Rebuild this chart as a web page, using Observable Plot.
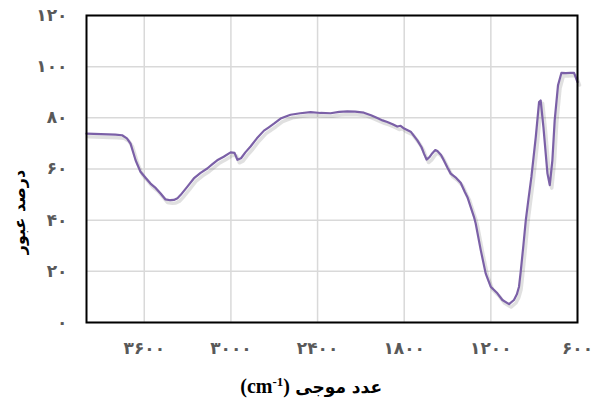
<!DOCTYPE html>
<html><head><meta charset="utf-8">
<script src="https://cdn.jsdelivr.net/npm/d3@7"></script>
<script src="https://cdn.jsdelivr.net/npm/@observablehq/plot@0.6"></script>
<style>
body{margin:0;background:#fff;}
#chart svg{display:block;}
</style>
</head><body><div id="chart"></div>
<script>
const wavenumber = [4000,3900,3800,3753,3720,3695,3660,3626,3590,3557,3520,3487,3453,3420,3395,3370,3349,3300,3257,3210,3164,3130,3095,3050,3002,2975,2955,2930,2900,2864,2820,2771,2740,2702,2656,2620,2587,2520,2448,2380,2310,2250,2194,2140,2079,2030,1986,1950,1917,1880,1848,1825,1800,1755,1709,1680,1663,1645,1625,1605,1585,1570,1545,1524,1500,1478,1440,1409,1380,1362,1340,1317,1305,1270,1236,1201,1155,1120,1074,1040,1020,1005,993,975,958,940,919,889,866,855,836,808,792,774,758,735,711,680,650,624,600];
const transmittance = [73.8,73.6,73.4,73.2,72.0,69.9,63.4,58.9,56.5,54.3,52.5,50.4,48.1,47.8,47.9,48.6,49.8,53.2,56.3,58.5,60.2,61.8,63.4,64.8,66.5,66.3,63.6,64.2,66.5,68.8,72.0,75.0,76.2,77.7,79.7,80.5,81.2,81.8,82.2,81.9,81.8,82.3,82.5,82.4,82.0,81.0,79.9,79.0,78.4,77.5,76.6,76.9,75.8,74.6,71.2,68.5,66.0,63.7,64.6,66.2,67.4,67.0,65.5,63.2,60.5,58.2,56.5,54.6,51.0,49.0,45.2,41.3,38.7,28.3,19.2,14.0,11.4,8.8,7.2,8.8,11.0,14.0,20.0,30.0,40.0,48.0,57.0,72.5,86.2,86.8,76.4,58.2,53.7,63.4,79.0,92.7,97.6,97.5,97.6,97.6,94.0];
const xTicks = [3600,3000,2400,1800,1200,600];
const xTickLabels = ["۳۶۰۰","۳۰۰۰","۲۴۰۰","۱۸۰۰","۱۲۰۰","۶۰۰"];
const yTicks = [0,20,40,60,80,100,120];
const yTickLabels = ["۰","۲۰","۴۰","۶۰","۸۰","۱۰۰","۱۲۰"];
const xTitle = "عدد موجی";
const xUnitOpen = "(cm";
const xUnitExp = "-1";
const xUnitClose = ")";
const yTitle = "درصد عبور";

const data = wavenumber.map((w, i) => ({w, t: transmittance[i]}));

const chart = Plot.plot({
  width: 592, height: 405,
  marginLeft: 86, marginRight: 15, marginTop: 15, marginBottom: 83,
  style: {fontFamily: "'DejaVu Sans', sans-serif", background: "white", overflow: "visible"},
  x: {domain: [4000, 600], axis: null},
  y: {domain: [0, 120], axis: null},
  marks: [
    Plot.ruleX(xTicks, {x: d => d, stroke: "#d9d9d9", strokeWidth: 1.5}),
    Plot.ruleY(yTicks, {y: d => d, stroke: "#d9d9d9", strokeWidth: 1.5}),
    Plot.line(data, {x: "w", y: "t", stroke: "#555", strokeOpacity: 0.18, strokeWidth: 3.5, dx: 2, dy: 3}),
    Plot.line(data, {x: "w", y: "t", stroke: "#7b60a7", strokeWidth: 2.2}),
    Plot.frame({stroke: "black", strokeWidth: 2}),
    Plot.text(xTicks, {x: d => d, text: (d, i) => xTickLabels[i], frameAnchor: "bottom", dy: 31,
      fill: "#595959", fontSize: 17, fontWeight: "bold", letterSpacing: 2}),
    Plot.text(yTicks, {y: d => d, text: (d, i) => yTickLabels[i], frameAnchor: "left", dx: -19, textAnchor: "end",
      fill: "#595959", fontSize: 17, fontWeight: "bold", letterSpacing: 2}),
    Plot.text([yTitle], {frameAnchor: "left", dx: -67, dy: 43, rotate: -90, textAnchor: "middle", fill: "black",
      fontSize: 16, fontWeight: "bold"})
  ]
});

document.getElementById("chart").append(chart);
const svg = d3.select(chart);

// x-axis title: Persian words on the right, unit with superscript on the left
const title = svg.append("g").attr("font-weight", "bold").attr("fill", "black");
title.append("text").attr("x", 382).attr("y", 393).attr("text-anchor", "end")
  .attr("font-family", "'DejaVu Sans', sans-serif").attr("font-size", 17).text(xTitle);
const serif = "'Liberation Serif', serif";
let right = 290;
const close = title.append("text").attr("x", right).attr("y", 393).attr("text-anchor", "end")
  .attr("font-family", serif).attr("font-size", 20).text(xUnitClose);
right -= close.node().getComputedTextLength();
const sup = title.append("text").attr("x", right).attr("y", 386).attr("text-anchor", "end")
  .attr("font-family", serif).attr("font-size", 13).text(xUnitExp);
right -= sup.node().getComputedTextLength();
title.append("text").attr("x", right).attr("y", 393).attr("text-anchor", "end")
  .attr("font-family", serif).attr("font-size", 20).text(xUnitOpen);
</script>
</body></html>
